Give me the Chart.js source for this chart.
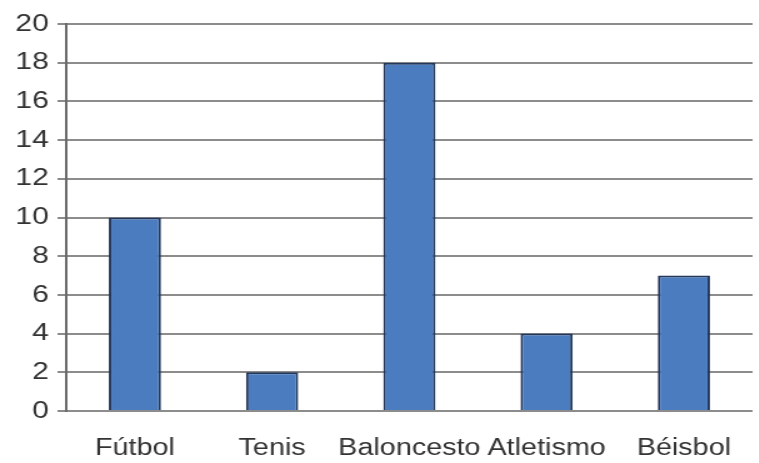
<!DOCTYPE html>
<html>
<head>
<meta charset="utf-8">
<script src="https://cdn.jsdelivr.net/npm/chart.js@4/dist/chart.umd.min.js"></script>
<style>
  html, body { margin: 0; padding: 0; background: #fff; overflow: hidden; }
  /* the chart is drawn narrow and widened, like the wide lettering of the original */
  #wrap { position: absolute; left: 0; top: 0; width: 607px; height: 463px;
          transform: scaleX(1.25); transform-origin: 0 0; }
</style>
</head>
<body>
<div id="wrap"><canvas id="deportes"></canvas></div>
<script>
const deportes = ['Fútbol', 'Tenis', 'Baloncesto', 'Atletismo', 'Béisbol'];
const alumnos = [10, 2, 18, 4, 7];
const marcasY = [0, 2, 4, 6, 8, 10, 12, 14, 16, 18, 20];

const ctx = document.getElementById('deportes');

new Chart(ctx, {
  type: 'bar',
  data: {
    labels: deportes,
    datasets: [{
      data: alumnos,
      backgroundColor: '#4a7cbf',
      borderColor: '#22375a',
      borderWidth: 2,
      borderSkipped: 'bottom',
      barPercentage: 0.76,
      categoryPercentage: 0.5
    }]
  },
  options: {
    responsive: true,
    maintainAspectRatio: false,
    animation: false,
    layout: { padding: { top: 24, right: 5, left: 0, bottom: 0 } },
    plugins: { legend: { display: false }, tooltip: { enabled: false } },
    scales: {
      x: {
        grid: { display: false },
        border: { display: false },
        ticks: {
          color: '#333',
          padding: 16,
          maxRotation: 0,
          minRotation: 0,
          autoSkip: false,
          font: { family: 'Liberation Sans, Arial, sans-serif', size: 23 }
        },
        afterFit: function (s) { s.height = 52; }
      },
      y: {
        min: 0,
        max: 20,
        afterBuildTicks: function (s) { s.ticks = marcasY.map(v => ({ value: v })); },
        grid: { color: '#8c8c8c', lineWidth: 2, tickLength: 7, drawTicks: true },
        border: { display: true, color: '#6a6a6a', width: 2 },
        ticks: {
          color: '#333',
          padding: 7,
          font: { family: 'Liberation Sans, Arial, sans-serif', size: 24 }
        },
        afterFit: function (s) { s.width = 53; }
      }
    }
  }
});
</script>
</body>
</html>
